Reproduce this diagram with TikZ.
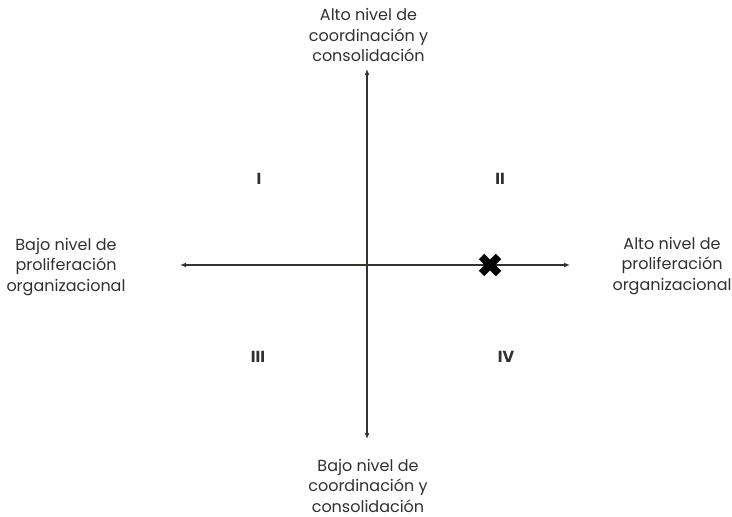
\documentclass[tikz,border=0pt]{standalone}
\usepackage{fontspec}
\setmainfont{Poppins}
\usetikzlibrary{arrows.meta,calc}
\definecolor{axis}{HTML}{333330}
\definecolor{txt}{HTML}{303030}
\tikzset{
  axisline/.style={draw=axis, line width=1.6bp, -{Latex[length=6bp,width=5bp]}},
  lbl/.style={align=center, text=txt, font=\fontsize{16bp}{20.5bp}\selectfont, inner sep=0pt},
  quad/.style={text=txt, font=\fontsize{16bp}{17bp}\selectfont\bfseries, inner sep=0pt},
  crossline/.style={line width=7.5bp, black, line cap=butt}
}
\begin{document}
\begin{tikzpicture}[x=1bp,y=-1bp]
\useasboundingbox (0,0) rectangle (732,517);
\node[lbl] (top) at (368.5,35) {Alto nivel de\\coordinación y\\consolidación};
\node[lbl] (bottom) at (368,485.5) {Bajo nivel de\\coordinación y\\consolidación};
\node[lbl] (left) at (66,267) {Bajo nivel de\\proliferación\\organizacional};
\node[lbl] (right) at (672,266) {Alto nivel de\\proliferación\\organizacional};
\coordinate (vt) at (367,69);
\coordinate (vb) at (367,439);
\coordinate (hl) at (180,265);
\coordinate (hr) at (570,265);
\coordinate (c) at (367,265);
\draw[axisline] (c) -- (vt);
\draw[axisline] (c) -- (vb);
\draw[axisline] (c) -- (hl);
\draw[axisline] (c) -- (hr);
\node[quad] (q1) at (259,179) {I};
\node[quad] (q2) at (500,179) {II};
\node[quad] (q3) at (258,357) {III};
\node[quad] (q4) at (506,357) {IV};
\node[inner sep=0pt, minimum size=23bp] (mark) at (490,265) {};
\draw[crossline] ($(mark)+(-8.5,-8.5)$) -- ($(mark)+(8.5,8.5)$);
\draw[crossline] ($(mark)+(-8.5,8.5)$) -- ($(mark)+(8.5,-8.5)$);
\end{tikzpicture}
\end{document}
